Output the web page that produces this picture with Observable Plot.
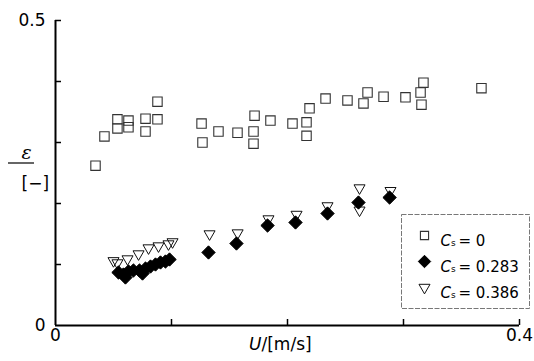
<!DOCTYPE html>
<html><head><meta charset="utf-8">
<script src="https://cdn.jsdelivr.net/npm/d3@7"></script>
<script src="https://cdn.jsdelivr.net/npm/@observablehq/plot@0.6"></script>
<style>body{margin:0;background:#fff}</style>
</head><body><div id="chart"></div>
<script>
// Cs = 0 (open squares)
const cs0X = [0.0345,0.0422,0.0534,0.0534,0.0629,0.0629,0.0776,0.0776,0.0879,0.0879,0.1259,0.1267,0.1405,0.1569,0.1707,0.1707,0.1716,0.1853,0.2043,0.2164,0.2164,0.219,0.2328,0.2517,0.2655,0.269,0.2828,0.3017,0.3147,0.3155,0.3172,0.3672];
const cs0Y = [0.262,0.310,0.338,0.323,0.336,0.325,0.339,0.318,0.367,0.338,0.331,0.300,0.318,0.316,0.318,0.298,0.344,0.336,0.331,0.333,0.311,0.356,0.372,0.369,0.364,0.382,0.375,0.374,0.382,0.362,0.398,0.389];
// Cs = 0.283 (filled diamonds)
const cs283X = [0.0543,0.0586,0.0603,0.0629,0.0672,0.0724,0.075,0.0776,0.0819,0.0862,0.0905,0.0948,0.0983,0.1319,0.156,0.1828,0.2069,0.2345,0.2612,0.288];
const cs283Y = [0.0869,0.0836,0.0787,0.0885,0.0902,0.0902,0.0852,0.0934,0.0967,0.100,0.1033,0.1049,0.1082,0.1197,0.1344,0.1639,0.1689,0.1836,0.2016,0.2098];
// Cs = 0.386 (open down-triangles)
const cs386X = [0.050,0.0534,0.0621,0.0716,0.0802,0.0888,0.0974,0.1009,0.1328,0.157,0.1836,0.2078,0.2345,0.2621,0.2621,0.2888];
const cs386Y = [0.106,0.1025,0.109,0.1172,0.127,0.1303,0.1336,0.137,0.150,0.1516,0.1746,0.182,0.196,0.2254,0.189,0.221];

const xTickMarks = [0.1,0.2,0.3,0.4];
const yTickMarks = [0.1,0.2,0.3,0.4,0.5];
const xTickLabels = [0,0.4];
const yTickLabels = [0,0.5];
const legendValues = ["0","0.283","0.386"];

const W=534, H=361, mL=55, mR=15, mT=20, mB=36;
const fw = W-mL-mR, fh = H-mT-mB;
const font = "DejaVu Sans";

const toRows = (xs, ys) => xs.map((x,i)=>({x, y: ys[i]}));
const d0 = toRows(cs0X, cs0Y), d283 = toRows(cs283X, cs283Y), d386 = toRows(cs386X, cs386Y);

const symStyles = [
  {symbol:"square", r:4.6, stroke:"#333", strokeWidth:1.1, fill:"none"},
  {symbol:"diamond2", r:5.6, stroke:"#000", strokeWidth:1, fill:"#000"},
  {symbol:"triangle", r:4.1, stroke:"#111", strokeWidth:1, fill:"none", rotate:180}
];

const legendMarks = [];
legendValues.forEach((v,i)=>{
  const dy = 215 + i*26;
  legendMarks.push(Plot.dot([0], {frameAnchor:"top-left", dx:369, dy, ...symStyles[i]}));
  legendMarks.push(Plot.text(["C"], {frameAnchor:"top-left", dx:385, dy, textAnchor:"start", fontStyle:"italic", fontSize:15, fontFamily:font}));
  legendMarks.push(Plot.text(["s"], {frameAnchor:"top-left", dx:395.5, dy:dy+4, textAnchor:"start", fontSize:9, fontFamily:font}));
  legendMarks.push(Plot.text(["= " + v], {frameAnchor:"top-left", dx:403, dy, textAnchor:"start", fontSize:15, fontFamily:font}));
});

const svg = Plot.plot({
  width:W, height:H, marginLeft:mL, marginRight:mR, marginTop:mT, marginBottom:mB,
  style:{fontFamily:font, background:"white", overflow:"visible", color:"#000"},
  x:{domain:[0,0.4]}, y:{domain:[0,0.5]},
  marks:[
    Plot.axisX(xTickLabels, {tickSize:0, tickPadding:3, fontSize:17, tickFormat:d=>String(d), label:null}),
    Plot.axisY(yTickLabels, {tickSize:0, tickPadding:10, fontSize:17, tickFormat:d=>String(d), label:null}),
    Plot.tickY(yTickMarks, {y:d=>d, insetRight:fw-6, strokeWidth:1.5}),
    Plot.tickX(xTickMarks, {x:d=>d, insetTop:fh-6, strokeWidth:1.5}),
    Plot.ruleX([0], {strokeWidth:2}),
    Plot.ruleY([0], {strokeWidth:2}),
    Plot.dot(d0, {x:"x", y:"y", ...symStyles[0], r:5.3}),
    Plot.dot(d386, {x:"x", y:"y", ...symStyles[2], r:4.1}),
    Plot.dot(d283, {x:"x", y:"y", ...symStyles[1], r:6.0}),
    Plot.frame({insetLeft:346, insetRight:-10, insetTop:194, insetBottom:17, stroke:"#777", strokeWidth:1, strokeDasharray:"5,1.5"}),
    ...legendMarks,
    Plot.text(["\u03b5"], {frameAnchor:"left", dx:-34, dy:-20, fontFamily:"DejaVu Serif", fontStyle:"italic", fontSize:19}),
    Plot.text(["[\u2212]"], {frameAnchor:"left", dx:-34, dy:11, fontSize:17, fontFamily:font}),
    Plot.text(["U"], {frameAnchor:"bottom", dx:-26, dy:24, textAnchor:"end", fontStyle:"italic", fontSize:17, fontFamily:font}),
    Plot.text(["/[m/s]"], {frameAnchor:"bottom", dx:-26, dy:24, textAnchor:"start", fontSize:17, fontFamily:font})
  ]
});
// fraction bar of the y-axis label
d3.select(svg).append("line")
  .attr("x1", 8).attr("x2", 34).attr("y1", 163).attr("y2", 163)
  .attr("stroke", "#000").attr("stroke-width", 1.2);
document.getElementById("chart").appendChild(svg);
</script>
</body></html>
